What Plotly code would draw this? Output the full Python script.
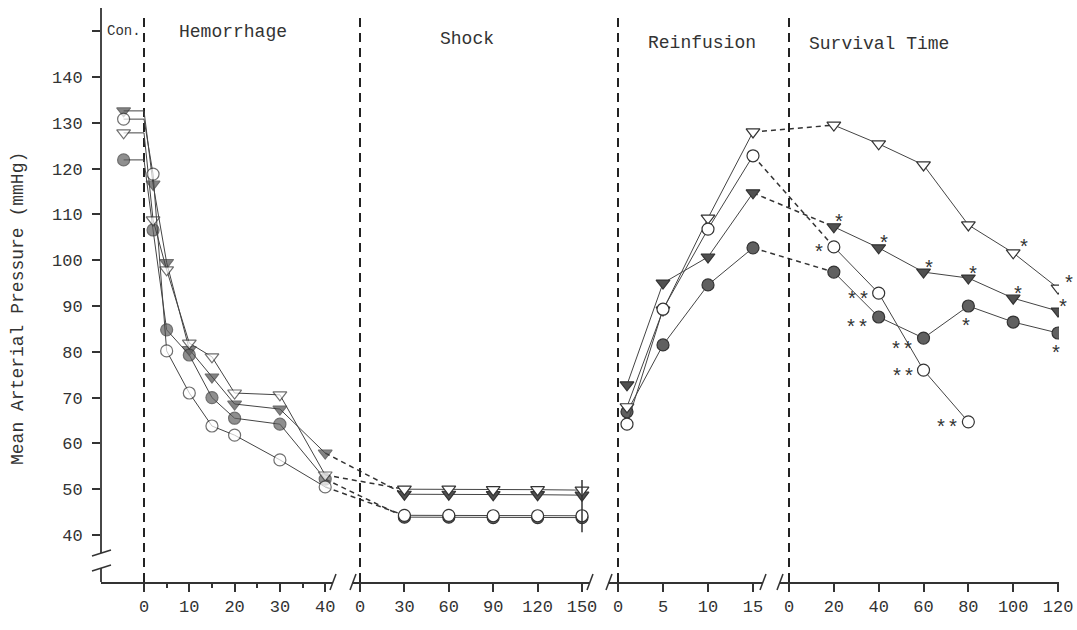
import plotly.graph_objects as go

# ---- data (mmHg) ----
con_t = -4.5
hem_t = [2, 5, 10, 15, 20, 30, 40]
shock_t = [30, 60, 90, 120, 150]
reinf_t = [1, 5, 10, 15]
surv_t = [20, 40, 60, 80, 100, 120]

# open triangle
con_otri = 127.8
hem_otri = [108.8, 97.9, 81.9, 78.9, 71.0, 70.6, 53.1]
shock_otri = [50.0, 50.0, 49.9, 49.9, 49.8]
reinf_otri = [68.0, 89.1, 109.2, 128.0]
surv_otri = [129.5, 125.4, 120.8, 107.7, 101.6, 93.9]
sig_otri = ["", "", "", "", "*", "*"]

# filled triangle
con_ftri = 132.6
hem_ftri = [116.6, 99.5, 80.5, 74.5, 68.6, 67.5, 57.9]
shock_ftri = [48.9, 48.9, 48.8, 48.8, 48.7]
reinf_ftri = [72.8, 95.0, 100.7, 114.7]
surv_ftri = [107.3, 102.7, 97.4, 96.1, 91.7, 88.9]
sig_ftri = ["*", "*", "*", "*", "*", "*"]

# open circle
con_ocir = 130.8
hem_ocir = [118.8, 80.2, 71.0, 63.8, 61.8, 56.4, 50.5]
shock_ocir = [44.3, 44.3, 44.2, 44.2, 44.2]
reinf_ocir = [64.2, 89.3, 106.8, 122.8]
surv_ocir = [102.9, 92.8, 76.0, 64.7]
sig_ocir = ["*", "**", "**", "**"]

# filled circle
con_fcir = 121.9
hem_fcir = [106.6, 84.8, 79.3, 70.0, 65.5, 64.2, 52.2]
shock_fcir = [43.9, 43.9, 43.8, 43.8, 43.8]
reinf_fcir = [66.9, 81.5, 94.6, 102.7]
surv_fcir = [97.4, 87.6, 83.0, 90.0, 86.5, 84.1]
sig_fcir = ["", "**", "**", "*", "", "*"]

phase_labels = ["Con.", "Hemorrhage", "Shock", "Reinfusion", "Survival Time"]
y_ticks = [40, 50, 60, 70, 80, 90, 100, 110, 120, 130, 140, 150]
y_ticktext = ["40", "50", "60", "70", "80", "90", "100", "110", "120", "130", "140", ""]
ticks1 = [0, 10, 20, 30, 40]
ticks2 = [0, 30, 60, 90, 120, 150]
ticks3 = [0, 5, 10, 15]
ticks4 = [0, 20, 40, 60, 80, 100, 120]

# ---- layout geometry (page pixels) ----
W, H = 1077, 630
PL, PR, PT, PB = 101, 1059, 10, 582      # plot box on the page
L, T, R, B = PL, PT, W - PR, H - PB
PW, PH = W - L - R, H - T - B
FONT = "Liberation Mono"
INK = "#333333"
LINE = "#444444"


def px_x(p):
    return (p - PL) / PW


def px_y(p):
    return (PB - p) / PH


# segment: (left px, right px, px of t=0, px per minute)
segs = {
    1: (101, 333, 144, 4.53),
    2: (352, 590, 360, 1.48),
    3: (608, 763, 618, 9.0),
    4: (780, 1059, 789, 2.242),
}


def seg_range(k):
    a, b, z, s = segs[k]
    return [(a - z) / s, (b - z) / s]


def seg_paper(k, t):
    a, b, z, s = segs[k]
    return px_x(z + t * s)


y_lo = 140 - (PB - 77) / 4.58
y_hi = 140 + (77 - PT) / 4.58

series = [
    # name, con, hem, shock, reinf, surv, symbol, fill
    ("ftri", con_ftri, hem_ftri, shock_ftri, reinf_ftri, surv_ftri, "triangle-down", "#505050"),
    ("fcir", con_fcir, hem_fcir, shock_fcir, reinf_fcir, surv_fcir, "circle", "#606060"),
    ("otri", con_otri, hem_otri, shock_otri, reinf_otri, surv_otri, "triangle-down", "white"),
    ("ocir", con_ocir, hem_ocir, shock_ocir, reinf_ocir, surv_ocir, "circle", "white"),
]

fig = go.Figure()
shapes = []
for name, con, hem, shock, reinf, surv, sym, fill in series:
    mk = dict(symbol=sym, size=12, color=fill, line=dict(color="#333333", width=1.2))
    ln = dict(color=LINE, width=1)
    hx = [con_t, 0] + hem_t
    hy = [con, con] + hem
    sizes = [12, 0] + [12] * len(hem_t)
    fig.add_trace(go.Scatter(x=hx, y=hy, mode="lines+markers", xaxis="x", yaxis="y",
                             line=ln, marker=dict(mk, size=sizes), showlegend=False))
    fig.add_trace(go.Scatter(x=shock_t, y=shock, mode="lines+markers", xaxis="x2", yaxis="y",
                             line=ln, marker=mk, showlegend=False))
    fig.add_trace(go.Scatter(x=reinf_t, y=reinf, mode="lines+markers", xaxis="x3", yaxis="y",
                             line=ln, marker=mk, showlegend=False))
    fig.add_trace(go.Scatter(x=surv_t[:len(surv)], y=surv, mode="lines+markers", xaxis="x4", yaxis="y",
                             line=ln, marker=mk, showlegend=False))
    # dashed connectors across axis breaks
    shapes.append(dict(type="line", xref="paper", yref="y", layer="below",
                       x0=seg_paper(1, hem_t[-1]), y0=hem[-1], x1=seg_paper(2, shock_t[0]), y1=shock[0],
                       line=dict(color=INK, width=1.5, dash="5px,4px")))
    shapes.append(dict(type="line", xref="paper", yref="y", layer="below",
                       x0=seg_paper(3, reinf_t[-1]), y0=reinf[-1], x1=seg_paper(4, surv_t[0]), y1=surv[0],
                       line=dict(color=INK, width=1.5, dash="5px,4px")))

# phase dividers
for ax in ["x", "x2", "x3", "x4"]:
    shapes.append(dict(type="line", xref=ax, yref="paper", x0=0, x1=0, y0=0, y1=px_y(12),
                       layer="below", line=dict(color="#222222", width=2, dash="9px,6px")))

# end bar at shock 150
shapes.append(dict(type="line", xref="x2", yref="y", x0=shock_t[-1], x1=shock_t[-1],
                   y0=40.6, y1=52.0, line=dict(color=INK, width=1.5)))

# y axis line with break
shapes.append(dict(type="line", xref="paper", yref="paper", x0=0, x1=0, y0=px_y(8), y1=px_y(553),
                   line=dict(color=INK, width=1.8)))
shapes.append(dict(type="line", xref="paper", yref="paper", x0=0, x1=0, y0=px_y(568), y1=0,
                   line=dict(color=INK, width=1.8)))
for yy in (553, 568):
    shapes.append(dict(type="line", xref="paper", yref="paper", x0=px_x(92), x1=px_x(111),
                       y0=px_y(yy + 3), y1=px_y(yy - 3), line=dict(color=INK, width=1.5)))
# x axis breaks
for xx in (333, 353, 590, 609, 763, 780):
    shapes.append(dict(type="line", xref="paper", yref="paper", x0=px_x(xx - 3), x1=px_x(xx + 3),
                       y0=px_y(590), y1=px_y(574), line=dict(color=INK, width=1.5)))

annotations = []
# phase labels
label_pos = [(124, 31), (233, 32), (467, 39), (702, 43), (879, 44)]
label_size = [14, 18, 18, 18, 18]
for txt, (cx, cy), fs in zip(phase_labels, label_pos, label_size):
    annotations.append(dict(text=txt, x=px_x(cx), y=px_y(cy), xref="paper", yref="paper",
                            xanchor="center", yanchor="middle", showarrow=False,
                            font=dict(family=FONT, size=fs, color=INK)))
annotations.append(dict(text="Mean Arterial Pressure (mmHg)", textangle=-90, x=px_x(18), y=px_y(309),
                        xref="paper", yref="paper", xanchor="center", yanchor="middle", showarrow=False,
                        font=dict(family=FONT, size=18, color=INK)))

# significance marks
star_font = dict(family=FONT, size=20, color=INK)
for t, v, s in zip(surv_t, surv_ftri, sig_ftri):
    if s:
        annotations.append(dict(text=s, x=t, y=v, xref="x4", yref="y", showarrow=False,
                                xshift=5, yshift=3, font=star_font))
for t, v, s in zip(surv_t, surv_otri, sig_otri):
    if s:
        annotations.append(dict(text=s, x=t, y=v, xref="x4", yref="y", showarrow=False,
                                xshift=11, yshift=4, font=star_font))
for t, v, s in zip(surv_t, surv_ocir, sig_ocir):
    if s:
        annotations.append(dict(text=s, x=t, y=v, xref="x4", yref="y", showarrow=False,
                                xanchor="right", xshift=-7, yshift=-7, font=star_font))
for t, v, s in zip(surv_t, surv_fcir, sig_fcir):
    if s == "**":
        annotations.append(dict(text=s, x=t, y=v, xref="x4", yref="y", showarrow=False,
                                xanchor="right", xshift=-8, yshift=-12, font=star_font))
    elif s:
        annotations.append(dict(text=s, x=t, y=v, xref="x4", yref="y", showarrow=False,
                                xshift=-2, yshift=-21, font=star_font))

tickfont = dict(family=FONT, size=17, color=INK)
xcommon = dict(showline=True, linecolor=INK, linewidth=1.8, ticks="outside", ticklen=8,
               tickwidth=1.5, tickcolor=INK, showgrid=False, zeroline=False, anchor="y",
               tickfont=tickfont, fixedrange=True, automargin=False)

fig.update_layout(
    template="none",
    width=W, height=H, autosize=False,
    margin=dict(l=L, r=R, t=T, b=B, pad=0, autoexpand=False),
    paper_bgcolor="white", plot_bgcolor="white",
    font=dict(family=FONT, color=INK),
    xaxis=dict(xcommon, domain=[px_x(segs[1][0]), px_x(segs[1][1])], range=seg_range(1),
               tickvals=ticks1, minor=dict(tickvals=[5, 15, 25, 35], ticklen=4, ticks="outside",
                                           tickcolor=INK)),
    xaxis2=dict(xcommon, domain=[px_x(segs[2][0]), px_x(segs[2][1])], range=seg_range(2), tickvals=ticks2),
    xaxis3=dict(xcommon, domain=[px_x(segs[3][0]), px_x(segs[3][1])], range=seg_range(3), tickvals=ticks3),
    xaxis4=dict(xcommon, domain=[px_x(segs[4][0]), px_x(segs[4][1])], range=seg_range(4), tickvals=ticks4),
    yaxis=dict(range=[y_lo, y_hi], tickvals=y_ticks, ticktext=y_ticktext, ticks="outside", ticklen=8,
               tickwidth=1.5, tickcolor=INK, showline=False, showgrid=False, zeroline=False,
               tickfont=tickfont, ticklabelstandoff=6, anchor="x", fixedrange=True, automargin=False),
    shapes=shapes,
    annotations=annotations,
)

# drop the page's default body margin so the figure sits at the window's corner
fig.write_html("out.html", config={"displayModeBar": False},
               post_script="document.body.style.margin='0';")
